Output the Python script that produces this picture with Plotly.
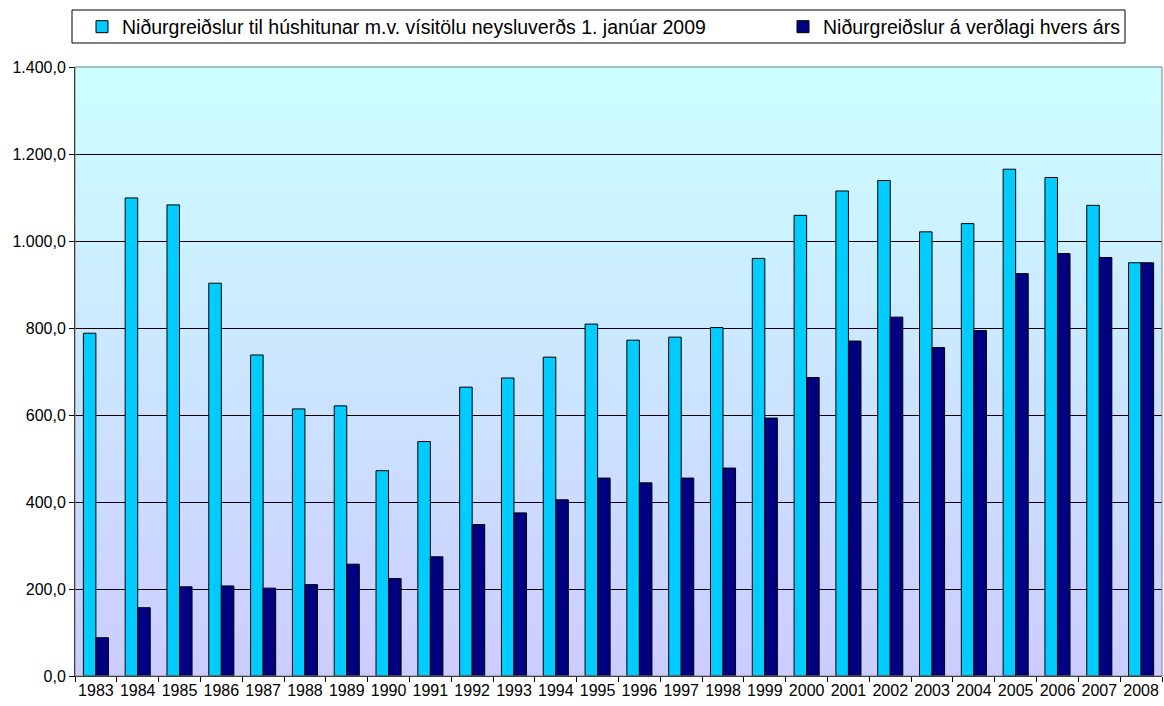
import plotly.graph_objects as go

years = [str(y) for y in range(1983, 2009)]
fixed_prices = [788, 1099, 1083, 903, 738, 614, 621, 472, 539, 664, 685, 733, 809, 772, 779,
                801, 960, 1059, 1115, 1139, 1021, 1040, 1165, 1146, 1082, 950]
current_prices = [88, 157, 205, 207, 202, 210, 257, 224, 274, 348, 375, 405, 455, 444, 455,
                  478, 593, 686, 770, 825, 755, 794, 925, 971, 962, 950]

name1 = "Niðurgreiðslur til húshitunar m.v. vísitölu neysluverðs 1. janúar 2009"
name2 = "Niðurgreiðslur á verðlagi hvers árs"

W, H = 1164, 706
ML, MR, MT, MB = 75, 2, 67, 30
PW, PH = W - ML - MR, H - MT - MB


def px_x(p):
    return (p - ML) / PW


def px_y(p):
    return 1 + (MT - p) / PH


fig = go.Figure()
fig.add_trace(go.Bar(x=years, y=fixed_prices, name=name1, legend="legend",
                     marker=dict(color="#00CCFF", line=dict(color="black", width=1))))
fig.add_trace(go.Bar(x=years, y=current_prices, name=name2, legend="legend2",
                     marker=dict(color="#000080", line=dict(color="black", width=1))))

# vertical gradient background (top light cyan -> bottom lavender)
shapes = []
n = 80
top = (0xCC, 0xFF, 0xFF)
bot = (0xCC, 0xCC, 0xFF)
for i in range(n):
    t = (i + 0.5) / n
    c = tuple(round(bot[k] + (top[k] - bot[k]) * t) for k in range(3))
    shapes.append(dict(type="rect", xref="x domain", yref="y domain",
                       x0=0, x1=1, y0=i / n, y1=(i + 1) / n + 0.002,
                       fillcolor="rgb(%d,%d,%d)" % c, line=dict(width=0), layer="below"))
shapes.append(dict(type="rect", xref="x domain", yref="y domain", x0=0, x1=1, y0=0, y1=1,
                   line=dict(color="#808080", width=1), fillcolor="rgba(0,0,0,0)", layer="above"))
# legend frame
shapes.append(dict(type="rect", xref="paper", yref="paper",
                   x0=px_x(72), x1=px_x(1125), y0=px_y(43), y1=px_y(10),
                   line=dict(color="black", width=1), fillcolor="white", layer="above"))

leg_common = dict(orientation="h", yanchor="middle", y=px_y(27), xanchor="left",
                  font=dict(size=19.5), bgcolor="rgba(0,0,0,0)", borderwidth=0)

fig.update_layout(
    width=W, height=H,
    margin=dict(l=ML, r=MR, t=MT, b=MB, pad=0, autoexpand=False),
    paper_bgcolor="white", plot_bgcolor="rgba(0,0,0,0)",
    font=dict(family="Liberation Sans, Arial, sans-serif", size=16, color="black"),
    separators=",.",
    barmode="group", bargap=0.4, bargroupgap=0,
    shapes=shapes,
    showlegend=True,
    legend=dict(x=px_x(82), **leg_common),
    legend2=dict(x=px_x(783), **leg_common),
    xaxis=dict(type="category", tickson="boundaries", ticks="outside", ticklen=5,
               tickcolor="black", showline=True, linecolor="black", linewidth=1,
               showgrid=False, tickfont=dict(size=16), tickangle=0, automargin=False),
    yaxis=dict(range=[0, 1400], dtick=200, tickformat=",.1f", ticks="outside", ticklen=5,
               tickcolor="black", showline=True, linecolor="black", linewidth=1,
               showgrid=True, gridcolor="black", gridwidth=1, zeroline=False,
               tickfont=dict(size=16), automargin=False),
)

fig.write_html("out.html", config={"displayModeBar": False},
               post_script="document.body.style.margin='0px';")
